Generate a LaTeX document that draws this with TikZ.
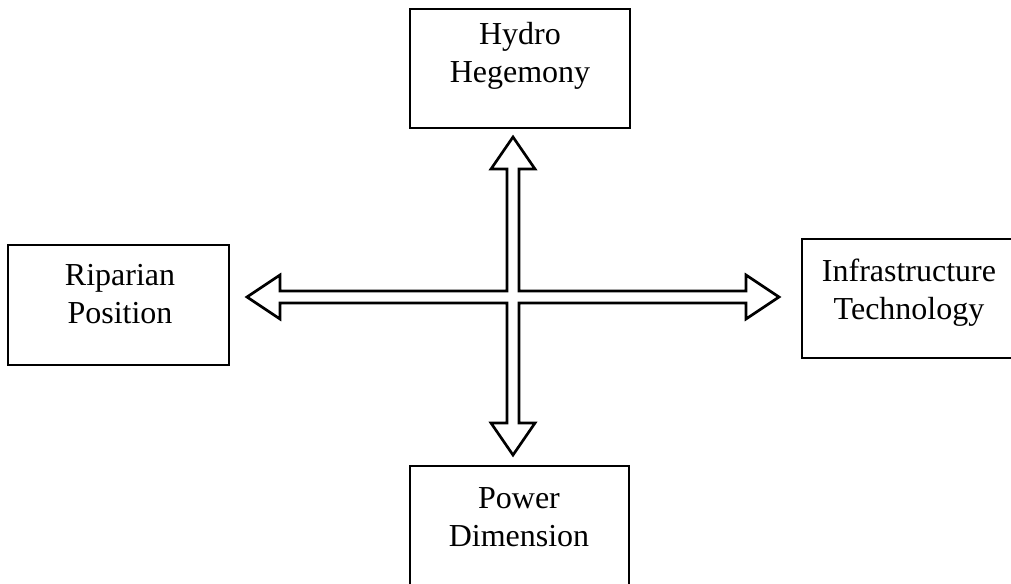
\documentclass[tikz,border=0pt]{standalone}
\usepackage{fontspec}
\setmainfont{Liberation Serif}
\begin{document}
\begin{tikzpicture}[x=0.75pt,y=-0.75pt,
  box/.style={draw=black,line width=2pt,fill=white},
  boxtext/.style={anchor=base,inner sep=0pt,font=\fontsize{24}{28.5}\selectfont},
  cross/.style={draw=black,line width=2pt,line join=miter,fill=white}]
\useasboundingbox (0,0) rectangle (1011,583);
\clip (0,0) rectangle (1011,583);

% boxes (corners in pixel units)
\path[box] (410,9) rectangle (630,128);
\path[box] (8,245) rectangle (229,365);
\path[box] (802,239) rectangle (1040,358);
\path[box] (410,466) rectangle (629,620);

\node[boxtext] (hydro) at (520,44)
  {\begin{tabular}[t]{@{}c@{}}Hydro\\Hegemony\end{tabular}};
\node[boxtext] (riparian) at (120,285)
  {\begin{tabular}[t]{@{}c@{}}Riparian\\Position\end{tabular}};
\node[boxtext] (infra) at (909,281)
  {\begin{tabular}[t]{@{}c@{}}Infrastructure\\Technology\end{tabular}};
\node[boxtext] (power) at (519,508)
  {\begin{tabular}[t]{@{}c@{}}Power\\Dimension\end{tabular}};

% four-way hollow block arrow
\path[cross]
  (507,291) -- (507,169) -- (491,169) -- (513,137) -- (535,169) -- (519,169) --
  (519,291) -- (746,291) -- (746,275) -- (779,297) -- (746,319) -- (746,303) --
  (519,303) -- (519,423) -- (535,423) -- (513,455) -- (491,423) -- (507,423) --
  (507,303) -- (280,303) -- (280,319) -- (247,297) -- (280,275) -- (280,291) -- cycle;
\end{tikzpicture}
\end{document}
